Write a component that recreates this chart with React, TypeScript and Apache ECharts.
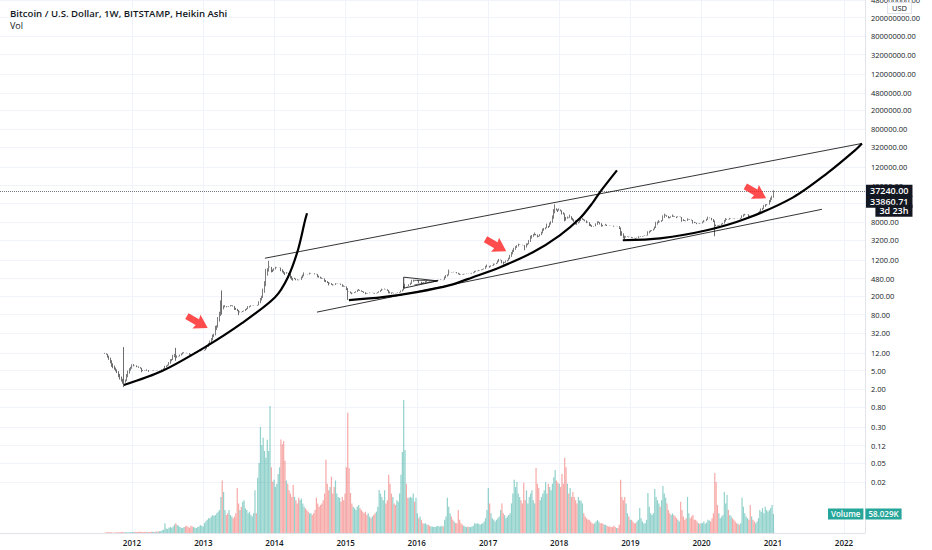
import React, { useEffect, useRef } from 'react';
import * as echarts from 'echarts';

// ---------- weekly Heikin Ashi closes (USD) ----------
const START_WEEK = '2011-08-15';
const FIRST_OPEN = 12;
const CLOSE_2011 = [11.5, 11.0, 9.5, 8.5, 7.2, 6.0, 5.6, 5.2, 4.8, 4.4, 3.6, 3.2, 2.9, 2.6, 2.5, 3.2, 4.2, 5.0, 5.6, 6.0];
const CLOSE_2012 = [6.8, 6.9, 6.4, 5.9, 6.1, 5.7, 5.5, 4.6, 4.9, 4.9, 4.9, 5.3, 4.7, 4.9, 4.9, 5.0, 5.1, 5.0, 5.1, 5.0, 5.1, 5.1, 5.3, 5.6, 6.3, 6.4, 6.7, 7.6, 8.8, 8.9, 10.9, 11.4, 8.1, 10.6, 10.2, 11.0, 11.7, 12.3, 12.4, 12.0, 11.8, 11.8, 10.9, 10.7, 11.0, 11.8, 12.4, 12.5, 12.8, 13.4, 13.3, 13.5, 13.4];
const CLOSE_2013 = [14.0, 15.6, 17.5, 19.6, 22.0, 25.0, 29.8, 31.0, 46.0, 47.0, 71.0, 92.0, 162, 90, 126, 128, 115, 117, 122, 128, 129, 120, 101, 101, 95, 78, 94, 90, 96, 98, 105, 110, 122, 123, 127, 124, 126, 125, 124, 130, 155, 182, 204, 290, 420, 775, 800, 1000, 870, 650, 660, 800];
const CLOSE_2014 = [860, 830, 820, 830, 690, 650, 610, 570, 660, 630, 580, 480, 450, 430, 500, 440, 440, 440, 450, 530, 580, 650, 590, 590, 580, 640, 630, 620, 620, 590, 590, 510, 500, 480, 475, 475, 410, 400, 385, 340, 390, 350, 340, 345, 380, 370, 375, 375, 350, 320, 320, 320];
const CLOSE_2015 = [270, 210, 250, 230, 220, 235, 245, 255, 275, 285, 260, 250, 245, 235, 220, 225, 235, 240, 235, 237, 230, 225, 235, 245, 255, 270, 290, 280, 290, 280, 260, 230, 230, 225, 240, 230, 230, 235, 240, 245, 265, 280, 325, 370, 330, 325, 360, 390, 450, 455, 420, 430];
const CLOSE_2016 = [450, 380, 410, 370, 375, 400, 420, 430, 415, 410, 415, 415, 420, 420, 430, 450, 450, 460, 455, 440, 530, 570, 590, 750, 670, 650, 650, 670, 655, 620, 590, 570, 580, 575, 605, 605, 610, 600, 610, 615, 635, 655, 700, 705, 705, 735, 730, 755, 770, 790, 900, 960];
const CLOSE_2017 = [900, 820, 920, 920, 1010, 1000, 1050, 1180, 1270, 1230, 1020, 960, 1080, 1180, 1210, 1350, 1550, 1780, 1990, 2200, 2400, 2500, 2700, 2600, 2550, 2500, 2500, 1950, 2750, 2750, 3250, 4000, 4150, 4350, 4700, 4100, 3700, 3800, 4350, 4900, 5700, 5900, 6100, 7300, 5900, 7700, 8250, 11000, 15000, 19000, 14000, 13000];
const CLOSE_2018 = [15500, 13500, 11500, 11500, 8200, 8500, 10400, 9600, 11400, 8900, 8500, 8000, 7000, 6900, 8000, 8900, 9300, 9700, 8600, 8200, 7500, 7700, 6500, 6400, 6200, 6300, 6400, 7400, 8200, 8200, 7000, 6300, 6400, 6700, 7200, 6500, 6700, 6600, 6600, 6600, 6300, 6400, 6500, 6400, 5600, 4000, 4000, 3500, 3300, 3900, 3900, 3700, 3800];
const CLOSE_2019 = [3600, 3550, 3550, 3450, 3650, 3900, 3800, 3900, 3950, 4000, 4050, 4100, 5000, 5100, 5300, 5300, 5700, 6300, 8000, 8100, 8700, 7800, 8700, 11000, 12000, 11400, 10300, 9500, 9500, 10500, 11500, 10300, 10200, 9600, 10500, 10400, 10000, 8000, 8300, 8300, 8200, 9500, 9200, 8800, 8500, 7300, 7500, 7500, 7100, 7500, 7200, 7400];
const CLOSE_2020 = [8100, 8700, 8400, 9300, 10300, 9900, 9700, 8600, 7900, 5400, 6400, 6400, 6800, 6900, 7300, 7600, 8800, 9600, 9300, 8900, 9700, 9600, 9400, 9300, 9100, 9200, 9300, 9200, 9700, 11000, 11600, 11900, 11600, 11700, 10200, 10300, 10900, 10700, 10600, 11300, 11400, 13000, 13800, 15500, 16000, 18500, 19200, 19200, 18800, 23500, 26500, 29000];
const CLOSE_2021 = [33860.71];

// wick extremes visible on a few candles
const WICKS = [
  { week: '2011-11-21', low: 2.2, high: 16 },
  { week: '2012-08-13', high: 15.4 },
  { week: '2013-04-08', high: 266, low: 80 },
  { week: '2013-12-02', high: 1150 },
  { week: '2015-01-12', low: 165 },
  { week: '2020-03-09', low: 3900 },
  { week: '2021-01-04', high: 38000 },
];

// ---------- weekly volume (thousands) ----------
const VOL_2011 = [1, 2, 2, 2, 2, 2, 1, 1, 2, 2, 2, 2, 3, 3, 2, 2, 2, 2, 2, 3];
const VOL_2012 = [3, 3, 4, 3, 3, 4, 4, 3, 3, 3, 4, 3, 3, 3, 4, 4, 3, 4, 4, 5, 5, 6, 8, 10, 30, 14, 12, 16, 18, 16, 20, 26, 30, 24, 22, 18, 16, 15, 18, 20, 22, 18, 16, 22, 20, 18, 16, 15, 18, 20, 24, 22, 20];
const VOL_2013 = [30, 36, 40, 45, 45, 50, 55, 52, 55, 60, 65, 70, 110, 160, 125, 70, 55, 60, 70, 55, 50, 45, 50, 60, 137, 90, 70, 80, 95, 100, 75, 70, 60, 65, 55, 50, 60, 130, 60, 168, 213, 323, 268, 290, 250, 229, 284, 250, 387, 200, 156, 162];
const VOL_2014 = [140, 150, 180, 200, 285, 270, 280, 220, 160, 150, 130, 120, 110, 146, 110, 100, 90, 107, 100, 105, 90, 80, 75, 70, 65, 60, 60, 55, 60, 70, 107, 90, 80, 85, 90, 100, 120, 223, 150, 130, 140, 171, 120, 140, 160, 120, 110, 107, 95, 110, 100, 120];
const VOL_2015 = [200, 366, 198, 122, 90, 80, 75, 70, 80, 85, 75, 70, 65, 60, 65, 55, 60, 50, 45, 50, 55, 60, 65, 80, 131, 120, 110, 100, 130, 90, 100, 177, 150, 120, 110, 90, 85, 100, 95, 120, 177, 247, 405, 253, 150, 107, 107, 110, 107, 120, 95, 107];
const VOL_2016 = [60, 45, 50, 40, 30, 28, 30, 25, 25, 22, 20, 20, 18, 18, 20, 22, 20, 20, 22, 20, 40, 50, 107, 80, 60, 50, 40, 35, 30, 30, 70, 40, 30, 25, 22, 20, 18, 20, 18, 18, 20, 22, 30, 28, 30, 28, 25, 28, 30, 35, 45, 70];
const VOL_2017 = [137, 90, 60, 45, 40, 35, 40, 45, 50, 70, 90, 60, 55, 45, 50, 55, 60, 90, 120, 162, 140, 155, 120, 110, 100, 90, 153, 100, 130, 90, 110, 120, 130, 100, 90, 198, 150, 137, 100, 110, 120, 130, 155, 120, 150, 140, 130, 150, 170, 192, 160, 153];
const VOL_2018 = [150, 140, 180, 150, 229, 200, 150, 120, 137, 110, 125, 110, 100, 90, 110, 100, 98, 90, 60, 50, 45, 40, 40, 35, 30, 28, 30, 35, 40, 35, 30, 30, 28, 25, 25, 22, 20, 20, 18, 18, 22, 18, 15, 15, 25, 162, 110, 100, 110, 90, 60, 50, 40];
const VOL_2019 = [40, 35, 30, 30, 35, 40, 76, 45, 35, 30, 30, 40, 122, 80, 60, 55, 60, 134, 110, 100, 90, 80, 100, 143, 120, 107, 90, 70, 60, 55, 60, 55, 50, 45, 40, 35, 95, 70, 50, 40, 45, 110, 60, 45, 50, 55, 40, 40, 35, 30, 28, 30];
const VOL_2020 = [30, 35, 28, 32, 40, 38, 35, 45, 60, 183, 155, 85, 60, 45, 50, 55, 125, 90, 116, 70, 55, 50, 45, 40, 35, 30, 28, 25, 30, 107, 80, 60, 50, 45, 40, 85, 50, 40, 35, 30, 35, 45, 70, 65, 76, 60, 80, 70, 65, 70, 76, 85];
const VOL_2021 = [58.029];

// ---------- labels ----------
const TITLE = 'Bitcoin / U.S. Dollar, 1W, BITSTAMP, Heikin Ashi';
const SUBTITLE = 'Vol';
const CURRENCY = 'USD';
const LAST_PRICE = 37240;
const HA_CLOSE_TEXT = '33860.71';
const COUNTDOWN = '3d 23h';
const VOLUME_NAME = 'Volume';
const LAST_VOLUME_TEXT = '58.029K';
const LAST_VOLUME = 58.029;
// price scale marks (grid lines); 20000 sits under the price boxes and shows no text
const Y_TICKS = [0.02, 0.05, 0.12, 0.3, 0.8, 2, 5, 12, 32, 80, 200, 480, 1200, 3200, 8000, 20000, 48000, 120000, 320000, 800000, 2000000, 4800000, 12000000, 32000000, 80000000, 200000000, 480000000];
const Y_LABELS = [0.02, 0.05, 0.12, 0.3, 0.8, 2, 5, 12, 32, 80, 200, 480, 1200, 3200, 8000, 48000, 120000, 320000, 800000, 2000000, 4800000, 12000000, 32000000, 80000000, 200000000, 480000000];
const X_TICKS = ['2012-01-01', '2013-01-01', '2014-01-01', '2015-01-01', '2016-01-01', '2017-01-01', '2018-01-01', '2019-01-01', '2020-01-01', '2021-01-01', '2022-01-01'];

// ---------- drawings (date, price) ----------
const CURVE_2013: [string, number][] = [['2011-11-20', 2.44], ['2012-06-03', 4.88], ['2013-01-10', 16], ['2013-07-18', 52.5], ['2014-01-04', 190], ['2014-03-11', 513], ['2014-05-01', 1950], ['2014-06-07', 8620], ['2014-06-17', 12200]];
const CURVE_2017: [string, number][] = [['2015-01-18', 164], ['2015-07-10', 190], ['2016-01-01', 244], ['2016-06-19', 345], ['2016-10-15', 513], ['2017-03-04', 842], ['2017-08-19', 1766], ['2018-01-04', 4100], ['2018-04-17', 9510], ['2018-06-23', 21000], ['2018-07-28', 34500], ['2018-10-24', 102600]];
const CURVE_2021: [string, number][] = [['2018-11-23', 3200], ['2019-06-02', 3530], ['2020-01-28', 5250], ['2020-08-21', 9510], ['2021-04-15', 26900], ['2021-10-06', 88300], ['2022-02-26', 276000], ['2022-04-03', 390000]];
const CHANNEL_TOP: [string, number][] = [['2013-11-13', 1313], ['2022-04-03', 390000]];
const CHANNEL_BOTTOM: [string, number][] = [['2014-08-07', 90.6], ['2021-09-10', 14860]];
const TRIANGLE: [string, number][] = [['2015-10-26', 513], ['2016-04-17', 427], ['2015-10-26', 297], ['2015-10-26', 513]];
const TRIANGLE_INNER: [string, number][] = [['2015-12-20', 440], ['2016-04-17', 427], ['2015-12-20', 350]];
const ARROWS: [string, number][] = [['2012-12-01', 55.2], ['2017-02-10', 2500], ['2020-10-05', 34500]];

const DAY = 86400000;
const FONT = "'Open Sans', 'Noto Sans', sans-serif";
const UP_VOL = 'rgba(38,166,154,0.5)';
const DOWN_VOL = 'rgba(239,83,80,0.5)';
const toT = (s: string) => Date.parse(s + 'T00:00:00Z');
const toPts = (a: [string, number][]) => a.map(([d, p]) => [toT(d), p]);

export default function App() {
  const ref = useRef<HTMLDivElement>(null);
  useEffect(() => {
    const chart = echarts.init(ref.current!, null, { renderer: 'svg' });
    const closes = [...CLOSE_2011, ...CLOSE_2012, ...CLOSE_2013, ...CLOSE_2014, ...CLOSE_2015, ...CLOSE_2016, ...CLOSE_2017, ...CLOSE_2018, ...CLOSE_2019, ...CLOSE_2020, ...CLOSE_2021];
    const vols = [...VOL_2011, ...VOL_2012, ...VOL_2013, ...VOL_2014, ...VOL_2015, ...VOL_2016, ...VOL_2017, ...VOL_2018, ...VOL_2019, ...VOL_2020, ...VOL_2021];
    const start = toT(START_WEEK);
    const wickMap = new Map(WICKS.map((w) => [w.week, w as any]));
    const candles: number[][] = [];
    const volData: any[] = [];
    let po = FIRST_OPEN;
    let pc = FIRST_OPEN;
    closes.forEach((c, i) => {
      const t = start + i * 7 * DAY;
      const o = i === 0 ? FIRST_OPEN : (po + pc) / 2;
      const key = new Date(t).toISOString().slice(0, 10);
      const w = wickMap.get(key);
      let lo = Math.min(o, c);
      let hi = Math.max(o, c);
      if (w) {
        if (w.low != null) lo = Math.min(lo, w.low);
        if (w.high != null) hi = Math.max(hi, w.high);
      }
      candles.push([t, o, c, lo, hi]);
      volData.push({ value: [t, vols[i] ?? 0], itemStyle: { color: c >= o ? UP_VOL : DOWN_VOL } });
      po = o;
      pc = c;
    });

    // layout of the time scale: 2012 at x=132, 2022 at x=844, plot right edge at 865
    const t2012 = toT('2012-01-01');
    const pxPerDay = 712 / 3653;
    const xMin = t2012 - (132 / pxPerDay) * DAY;
    const xMax = t2012 + (733 / pxPerDay) * DAY;
    const xTicks = X_TICKS.map(toT);
    const Y_MIN = 0.00158;
    const Y_MAX = 480000000;
    const VOL_AXIS_MAX = 1623;
    const hidden = { color: 'rgba(0,0,0,0)', width: 0 };

    const darkBox = { backgroundColor: '#131722', color: '#ffffff', fontSize: 9, fontWeight: 600, fontFamily: FONT, padding: [1.5, 4], lineHeight: 9 };
    const tealBox = { backgroundColor: '#26a69a', color: '#ffffff', fontSize: 8, fontWeight: 600, fontFamily: FONT, padding: [1.5, 3], lineHeight: 9 };

    const curve = (name: string, pts: [string, number][], width: number, smooth: number | boolean) => ({
      name,
      type: 'line',
      data: toPts(pts),
      yAxisIndex: 0,
      smooth,
      showSymbol: false,
      symbol: 'none',
      silent: true,
      z: 5,
      lineStyle: { color: '#000000', width },
    });

    const option: any = {
      animation: false,
      textStyle: { fontFamily: FONT },
      title: {
        text: TITLE,
        subtext: SUBTITLE,
        left: 5,
        top: 3,
        itemGap: 1,
        textStyle: { fontSize: 9.6, fontWeight: 600, color: '#131722', fontFamily: FONT, lineHeight: 11 },
        subtextStyle: { fontSize: 9, color: '#131722', fontFamily: FONT, lineHeight: 11 },
      },
      graphic: [
        {
          type: 'text',
          left: 887,
          top: 2,
          z: 100,
          style: { text: CURRENCY, fill: '#131722', font: `7.5px ${FONT}`, backgroundColor: '#ffffff', borderColor: '#e0e3eb', borderWidth: 1, padding: [1, 4] },
        },
      ],
      grid: { left: 0, right: 67, top: 0, bottom: 17, containLabel: false, outerBoundsMode: 'none' },
      xAxis: {
        type: 'value',
        min: xMin,
        max: xMax,
        axisLine: { show: true, lineStyle: { color: '#e0e3eb' } },
        axisTick: { show: false, customValues: xTicks },
        splitLine: { show: true, lineStyle: { color: '#f0f3fa' } },
        axisLabel: {
          customValues: xTicks,
          formatter: (v: number) => String(new Date(v + DAY).getUTCFullYear()),
          color: '#131722',
          fontSize: 8,
          fontWeight: 600,
          fontFamily: FONT,
          margin: 5,
        },
      },
      yAxis: [
        {
          type: 'log',
          logBase: 10,
          min: Y_MIN,
          max: Y_MAX,
          position: 'right',
          axisLine: { show: true, lineStyle: { color: '#e0e3eb' } },
          axisTick: { show: false, customValues: Y_TICKS },
          splitLine: { show: true, lineStyle: { color: '#f0f3fa' } },
          axisLabel: {
            customValues: Y_LABELS,
            formatter: (v: number) => Number(v).toFixed(2),
            color: '#131722',
            fontSize: 7.5,
            fontFamily: FONT,
            margin: 6,
          },
        },
        { type: 'value', min: 0, max: VOL_AXIS_MAX, show: false, splitLine: { show: false } },
      ],
      series: [
        {
          name: 'Vol',
          type: 'bar',
          yAxisIndex: 1,
          data: volData,
          barWidth: 1.2,
          silent: true,
          z: 1,
          markLine: {
            silent: true,
            symbol: ['none', 'none'],
            lineStyle: hidden,
            data: [
              {
                yAxis: LAST_VOLUME,
                lineStyle: hidden,
                label: {
                  show: true,
                  position: 'end',
                  distance: 0,
                  offset: [-37, 0],
                  formatter: `{t|${VOLUME_NAME}}{g|}{v|${LAST_VOLUME_TEXT}}`,
                  rich: { t: tealBox, g: { width: 2 }, v: tealBox },
                },
              },
            ],
          },
        },
        {
          name: 'BTCUSD',
          type: 'candlestick',
          yAxisIndex: 0,
          data: candles,
          encode: { x: 0, y: [1, 2, 3, 4] },
          barWidth: 1.3,
          silent: true,
          z: 3,
          itemStyle: { color: '#8c8c8c', color0: '#6e6e6e', borderColor: '#7c7c7c', borderColor0: '#6e6e6e', borderWidth: 1 },
          markLine: {
            silent: true,
            symbol: ['none', 'none'],
            data: [
              {
                yAxis: LAST_PRICE,
                lineStyle: { color: '#787b86', type: 'dotted', width: 1 },
                label: { show: true, position: 'end', distance: 1, formatter: LAST_PRICE.toFixed(2), ...darkBox },
              },
              {
                yAxis: closes[closes.length - 1],
                lineStyle: hidden,
                label: {
                  show: true,
                  position: 'end',
                  distance: 1,
                  verticalAlign: 'top',
                  offset: [0, 4.5],
                  formatter: `{a|${HA_CLOSE_TEXT}}\n{b|${COUNTDOWN}}`,
                  rich: { a: { ...darkBox }, b: { ...darkBox, align: 'right' } },
                },
              },
            ],
          },
        },
        curve('curve1', CURVE_2013, 2.2, 0.3),
        curve('curve2', CURVE_2017, 2.2, 0.3),
        curve('curve3', CURVE_2021, 2.2, 0.3),
        curve('channelTop', CHANNEL_TOP, 0.8, false),
        curve('channelBottom', CHANNEL_BOTTOM, 0.8, false),
        curve('triangle', TRIANGLE, 0.8, false),
        curve('triangleInner', TRIANGLE_INNER, 0.6, false),
        {
          name: 'arrows',
          type: 'scatter',
          yAxisIndex: 0,
          data: toPts(ARROWS),
          symbol: 'path://M0,22 L50,22 L46,0 L100,38 L46,76 L50,54 L0,54 Z',
          symbolSize: [24, 16],
          symbolRotate: -30,
          silent: true,
          z: 6,
          itemStyle: { color: '#ff1f1f' },
        },
      ],
    };
    chart.setOption(option);
    return () => chart.dispose();
  }, []);
  return <div ref={ref} style={{ position: 'fixed', left: 0, top: 0, width: 932, height: 550, background: '#ffffff' }} />;
}
